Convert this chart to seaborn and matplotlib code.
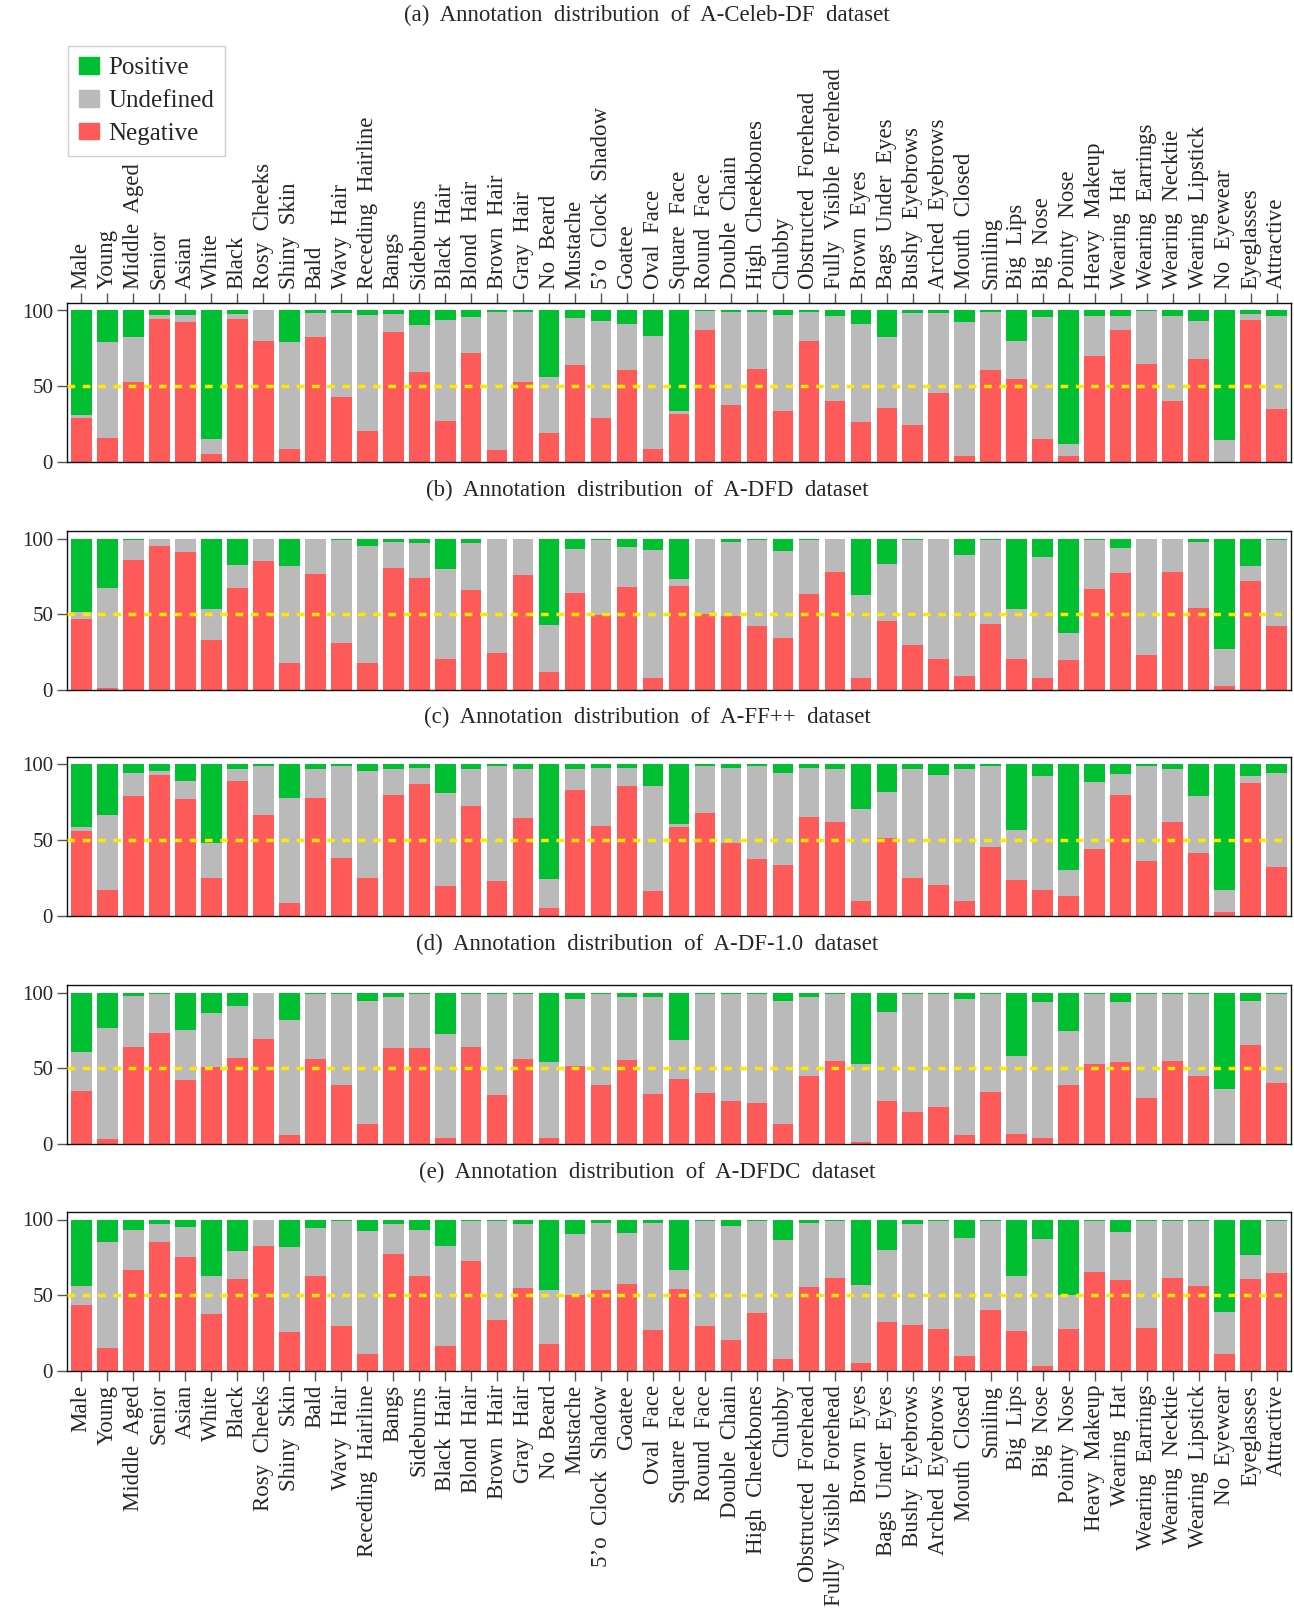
#stacked annotation distribution bars for five deepfake datasets
import numpy as np
import pandas as pd
import seaborn as sns
import matplotlib.pyplot as plt
from matplotlib.patches import Patch

#attribute names (x axis)
attributes = ["Male", "Young", "Middle  Aged", "Senior", "Asian", "White", "Black",
              "Rosy  Cheeks", "Shiny  Skin", "Bald", "Wavy  Hair", "Receding  Hairline",
              "Bangs", "Sideburns", "Black  Hair", "Blond  Hair", "Brown  Hair", "Gray  Hair",
              "No  Beard", "Mustache", "5\u2019o  Clock  Shadow", "Goatee", "Oval  Face",
              "Square  Face", "Round  Face", "Double  Chain", "High  Cheekbones", "Chubby",
              "Obstructed  Forehead", "Fully  Visible  Forehead", "Brown  Eyes",
              "Bags  Under  Eyes", "Bushy  Eyebrows", "Arched  Eyebrows", "Mouth  Closed",
              "Smiling", "Big  Lips", "Big  Nose", "Pointy  Nose", "Heavy  Makeup",
              "Wearing  Hat", "Wearing  Earrings", "Wearing  Necktie", "Wearing  Lipstick",
              "No  Eyewear", "Eyeglasses", "Attractive"]

titles = ["(a)  Annotation  distribution  of  A-Celeb-DF  dataset",
          "(b)  Annotation  distribution  of  A-DFD  dataset",
          "(c)  Annotation  distribution  of  A-FF++  dataset",
          "(d)  Annotation  distribution  of  A-DF-1.0  dataset",
          "(e)  Annotation  distribution  of  A-DFDC  dataset"]

#percentages (negative share and positive share, undefined is the rest)
celebdf_neg = [29, 15.6, 53, 94.4, 92.4, 5.6, 94.4, 79.7, 8.9, 82.4, 43, 20.3, 85.7, 59.7, 27, 71.7,
               8.2, 53, 19, 63.7, 29, 60.4, 8.9, 31.6, 87, 37.6, 61.7, 33.6, 79.7, 40.3, 26.3, 35.6,
               24.3, 45.7, 4.2, 61, 55, 14.9, 4.2, 69.7, 87, 65, 40.3, 67.7, 0, 93.8, 35]
celebdf_pos = [69, 21, 17.6, 2.9, 2.9, 85.1, 2.2, 0, 21, 1.6, 1.6, 2.9, 2.2, 9.6, 6.2, 4.2,
               0.7, 0.7, 43.7, 4.9, 6.9, 8.9, 17, 66.4, 0.4, 0.7, 0.7, 2.9, 0.7, 3.6, 8.9, 17.6,
               1.6, 1.6, 7.6, 0.7, 20.3, 4.2, 88.4, 3.6, 3.6, 0.4, 3.6, 6.9, 85.7, 2.2, 3.6]

dfd_neg = [46.7, 1.3, 86, 95.3, 91.3, 33.3, 67.3, 85.3, 18, 76.7, 31.3, 18, 80.7, 74, 20.7, 66,
           24.7, 76, 12, 64, 49.5, 68, 8, 68.7, 50, 48.7, 42, 34, 63.3, 78, 8, 45.3,
           30, 20.7, 9.3, 43.3, 20.7, 8, 20, 66.7, 77.3, 23.3, 78, 54, 2.7, 72, 42]
dfd_pos = [48.4, 32.7, 0.7, 0.4, 0.4, 46.7, 17.3, 0, 18, 0.4, 1.3, 4.7, 2, 2.7, 20, 3.3,
           0.4, 0.4, 57.3, 6.7, 0.7, 5.3, 7.3, 26.7, 0.4, 2, 1.3, 8, 1.3, 0, 37.3, 16.7,
           1.3, 0.4, 10.7, 0.7, 46.7, 12, 62.7, 0.7, 6, 0.4, 0, 2, 72.7, 18, 1.3]

ffpp_neg = [56.1, 16.9, 79.4, 93.3, 77.4, 24.8, 89.4, 66.7, 8.9, 78, 38.1, 24.8, 80, 87.4, 19.5, 72.7,
            22.8, 64.7, 5.5, 83.4, 59.4, 86, 16.2, 58.8, 68.1, 48.1, 37.5, 33.5, 65.4, 62.1, 10.2, 51.4,
            24.8, 20.2, 10.2, 45.5, 23.5, 16.9, 12.9, 44.1, 80, 36.1, 62.1, 41.5, 2.9, 88, 32.2]
ffpp_pos = [41.2, 33.3, 5.3, 4, 10.6, 51.9, 2.7, 0.7, 22, 3.3, 1.3, 4, 3.3, 2, 18.6, 2.7,
            0.7, 3.3, 75.8, 2.7, 2, 2, 14, 39.2, 0.7, 2.4, 1.3, 5.3, 2, 3.3, 29.3, 18,
            2.7, 6.7, 3.3, 0.7, 43.2, 7.3, 69.8, 11.3, 6, 0.7, 3.3, 20.6, 83.1, 7.3, 5.3]

df10_neg = [34.8, 3.5, 64.1, 73.4, 42.1, 50.8, 56.8, 69.4, 6.2, 56.1, 38.8, 12.9, 63.4, 63.4, 4.2, 64.1,
            32.2, 56.1, 4.2, 51.4, 38.8, 55.4, 32.8, 42.8, 33.5, 28.2, 26.8, 12.9, 44.8, 54.8, 1.6, 28.2,
            20.8, 24.2, 6.2, 34.1, 6.9, 4.2, 38.8, 52.8, 54.1, 30.2, 54.8, 44.8, 0, 65.4, 40.1]
df10_pos = [39.2, 23.3, 2, 0.7, 24.6, 13.3, 8.6, 0, 18, 1.3, 0.7, 5.3, 2.7, 1.3, 27.3, 0.7,
            0.7, 0.7, 45.9, 4, 0.7, 2.7, 2.7, 31.3, 0.7, 1.3, 1.3, 5.3, 2.7, 0.7, 47.2, 12.6,
            1.3, 0.7, 4, 0.7, 41.9, 6, 25.3, 0.7, 6, 0.7, 0.7, 1.3, 63.9, 5.3, 0.7]

dfdc_neg = [43.5, 15.5, 66.7, 85.4, 75.4, 37.5, 60.8, 82.7, 25.5, 62.7, 29.5, 10.9, 77.4, 62.7, 16.2, 72.7,
            33.5, 54.8, 17.5, 50.1, 53.4, 57.4, 26.8, 54.1, 29.5, 20.2, 38.1, 8.2, 55.4, 61.4, 5.5, 32.2,
            30.2, 27.5, 10.2, 40.1, 26.2, 3.5, 27.5, 65.4, 60.1, 28.2, 61.4, 56.1, 10.9, 60.8, 64.7]
dfdc_pos = [43.9, 14.6, 6.7, 2.7, 4.7, 37.3, 20.6, 0, 18, 5.3, 0.7, 7.3, 2.7, 6.7, 17.3, 0.7,
            0.7, 2.7, 46.6, 9.3, 2, 8.6, 2, 33.3, 1.3, 4, 1.3, 13.3, 2, 1.3, 43.2, 20,
            3.3, 1.3, 12, 0.7, 37.3, 12.6, 49.9, 0.7, 8, 0.7, 1.3, 1.3, 61.2, 23.3, 0.7]

#colors
c_pos = "#00BF30"
c_und = "#BABABA"
c_neg = "#FF5A5A"
c_half = "#FFE800"

sns.set_style("white")
plt.rcParams['font.family'] = ['Liberation Serif', 'DejaVu Serif']
plt.rcParams['font.size'] = 16.5

W, H = 1294, 1609
fig = plt.figure(figsize=(W / 100, H / 100), dpi=100)

panels = [(titles[0], celebdf_neg, celebdf_pos),
          (titles[1], dfd_neg, dfd_pos),
          (titles[2], ffpp_neg, ffpp_pos),
          (titles[3], df10_neg, df10_pos),
          (titles[4], dfdc_neg, dfdc_pos)]

#pixel layout of each panel (y of the zero line) and its caption
zero_y = [462, 690, 916, 1144, 1371]
title_y = [15, 490, 717, 944, 1172]
unit = 1.515
left, right = 67, 1291

for i, (title, neg, pos) in enumerate(panels):
    ax_h = 105 * unit
    ax = fig.add_axes([left / W, 1 - zero_y[i] / H, (right - left) / W, ax_h / H])

    df = pd.DataFrame({'attr': attributes, 'neg': neg, 'pos': pos})
    df['upper'] = 100 - df['pos']
    df['full'] = 100.0

    #draw back to front: positive (full bar), undefined, negative
    sns.barplot(data=df, x='attr', y='full', color=c_pos, saturation=1, width=0.8, linewidth=0, ax=ax)
    sns.barplot(data=df, x='attr', y='upper', color=c_und, saturation=1, width=0.8, linewidth=0, ax=ax)
    sns.barplot(data=df, x='attr', y='neg', color=c_neg, saturation=1, width=0.8, linewidth=0, ax=ax)
    ax.axhline(50, color=c_half, linestyle=(0, (2.2, 2.2)), linewidth=2.5, zorder=5)

    ax.set_xlim(-0.55, len(attributes) - 0.45)
    ax.set_ylim(0, 105)
    ax.set_yticks([0, 50, 100])
    ax.set_xlabel("")
    ax.set_ylabel("")
    for s in ax.spines.values():
        s.set_visible(True)
        s.set_color("#111111")
        s.set_linewidth(1.0)
    ax.tick_params(axis='y', direction='out', length=7, width=1, color="#555555",
                   labelsize=15, pad=3, left=True)

    if i == 0:
        ax.xaxis.tick_top()
        ax.tick_params(axis='x', direction='out', length=7, width=1, color="#555555",
                       labelsize=16.5, pad=3, top=True, bottom=False, labeltop=True, labelbottom=False)
        plt.setp(ax.get_xticklabels(), rotation=90)
    elif i == len(panels) - 1:
        ax.tick_params(axis='x', direction='out', length=7, width=1, color="#555555",
                       labelsize=16.5, pad=3, bottom=True)
        plt.setp(ax.get_xticklabels(), rotation=90)
    else:
        ax.tick_params(axis='x', bottom=False, labelbottom=False)

    fig.text(0.5, 1 - title_y[i] / H, title, ha='center', va='center', fontsize=16.5)

#legend in the top left corner
handles = [Patch(facecolor=c_pos, edgecolor=c_pos, label='Positive'),
           Patch(facecolor=c_und, edgecolor=c_und, label='Undefined'),
           Patch(facecolor=c_neg, edgecolor=c_neg, label='Negative')]
fig.legend(handles=handles, loc='upper left', bbox_to_anchor=(68 / W, 1 - 46 / H),
           frameon=True, fancybox=False, edgecolor="#CCCCCC", framealpha=1,
           fontsize=18, handlelength=0.8, handleheight=0.65, handletextpad=0.35,
           labelspacing=0.42, borderpad=0.45, borderaxespad=0)

fig.savefig("out.png", dpi=100)
